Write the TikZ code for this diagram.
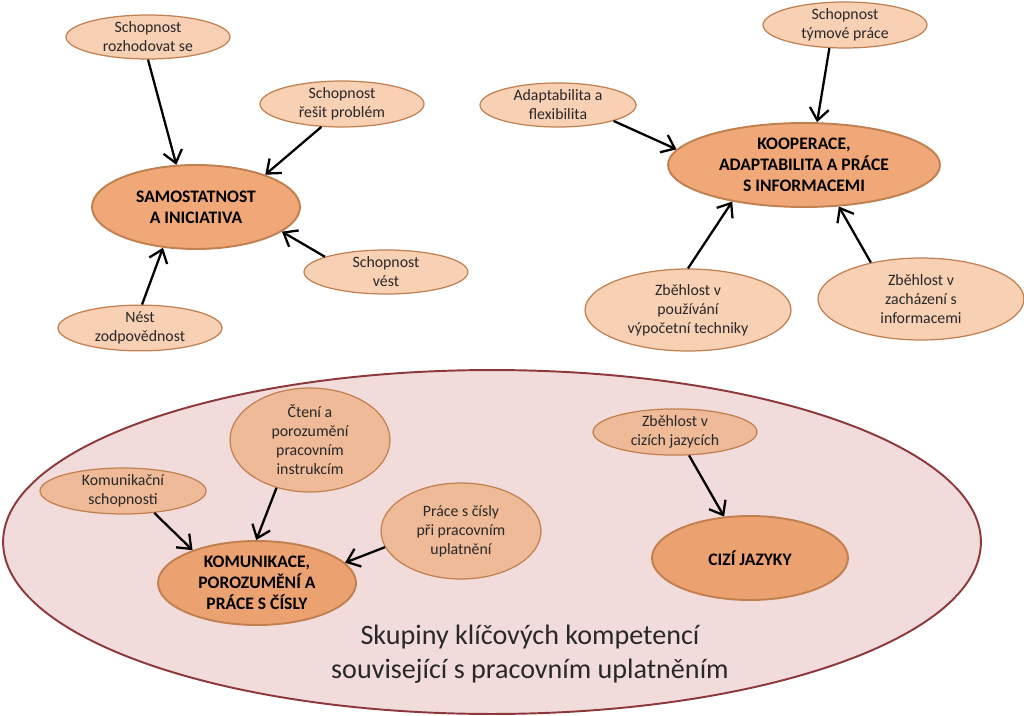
\documentclass[tikz,border=0pt]{standalone}
\usepackage{fontspec}
\setmainfont{Carlito}
\usepackage{xcolor}
\usetikzlibrary{shapes.geometric,arrows.meta}

\definecolor{subfill}{RGB}{248,208,180}
\definecolor{subfillin}{RGB}{238,186,152}
\definecolor{mainfill}{RGB}{240,168,120}
\definecolor{mainfillin}{RGB}{236,162,112}
\definecolor{ovaldraw}{RGB}{192,128,80}
\definecolor{regionfill}{RGB}{242,220,219}
\definecolor{regiondraw}{RGB}{140,56,58}
\definecolor{txt}{RGB}{40,40,40}

\begin{document}
\begin{tikzpicture}[x=0.02cm, y=-0.02cm, ->, >={Straight Barb[length=2.4mm,width=3.8mm]},
    line width=1.3pt,
    subnode/.style={ellipse, draw=ovaldraw, fill=subfill, line width=0.7pt, inner sep=0pt,
        minimum width=3.28cm, minimum height=0.88cm, align=center, text=txt,
        font=\fontsize{9}{10.8}\selectfont},
    mainnode/.style={ellipse, draw=ovaldraw, fill=mainfill, line width=1.1pt, inner sep=0pt,
        minimum width=4.16cm, minimum height=1.68cm, align=center, text=black,
        font=\fontsize{10}{11.9}\selectfont\bfseries}]

    \useasboundingbox (0,0) rectangle (1024,716);

    % The region
    \node [ellipse, draw=regiondraw, fill=regionfill, line width=1.1pt, minimum width=19.56cm,
        minimum height=6.88cm] at (492,542) (region) {};
    \node [font=\fontsize{16}{19.5}\selectfont, align=center, text=txt] at (530,654) (label)
        {Skupiny klíčových kompetencí\\související s pracovním uplatněním};

    % Samostatnost
    \node [mainnode] at (196,207) (samost) {SAMOSTATNOST\\A INICIATIVA};
    \node [subnode] at (148,37) (rozhod) {Schopnost\\rozhodovat se};
    \node [subnode] at (342,104) (resit) {Schopnost\\řešit problém};
    \node [subnode] at (386,272) (vest) {Schopnost\\vést};
    \node [subnode] at (140,328) (nest) {Nést\\zodpovědnost};

    % Kooperace
    \node [mainnode, minimum width=5.44cm] at (804,165) (koop) {KOOPERACE,\\ADAPTABILITA A PRÁCE\\S INFORMACEMI};
    \node [subnode] at (845,25) (tym) {Schopnost\\týmové práce};
    \node [subnode, minimum width=3.12cm] at (558,105) (adapt) {Adaptabilita a\\flexibilita};
    \node [subnode, minimum width=4.12cm, minimum height=1.64cm] at (688,310) (vypoc)
        {Zběhlost v\\používání\\výpočetní techniky};
    \node [subnode, minimum width=4.12cm, minimum height=1.64cm] at (921,299) (zach)
        {Zběhlost v\\zacházení s\\informacemi};

    % Komunikace
    \node [mainnode, fill=mainfillin, minimum width=3.96cm] at (257,583) (komun)
        {KOMUNIKACE,\\POROZUMĚNÍ A\\PRÁCE S ČÍSLY};
    \node [subnode, fill=subfillin, minimum width=3.32cm] at (123,491) (schop)
        {Komunikační\\schopnosti};
    \node [subnode, fill=subfillin, minimum width=3.2cm, minimum height=2.08cm] at (310,440) (cteni)
        {Čtení a\\porozumění\\pracovním\\instrukcím};
    \node [subnode, fill=subfillin, minimum width=3.2cm, minimum height=1.92cm] at (461,531) (cisla)
        {Práce s čísly\\při pracovním\\uplatnění};

    % Cizi jazyky
    \node [mainnode, fill=mainfillin, minimum width=3.92cm] at (750,558) (cizi) {CIZÍ JAZYKY};
    \node [subnode, fill=subfillin] at (675,432) (jazyk) {Zběhlost v\\cizích jazycích};

    % Graph edges
    \path[->]
    (rozhod.270) edge (samost.115)
    (resit.228) edge (samost.25)
    (vest.166) edge (samost.344)
    (nest.85) edge (samost.231);

    \path[->]
    (tym.236) edge (koop.73)
    (adapt.344) edge (koop.173)
    (vypoc.90) edge (koop.207)
    (zach.144) edge (koop.310);

    \path[->]
    (schop.325) edge (komun.153)
    (cteni.235) edge (komun.91)
    (cisla.192) edge (komun.13)
    (jazyk.301) edge (cizi.122);

\end{tikzpicture}
\end{document}
